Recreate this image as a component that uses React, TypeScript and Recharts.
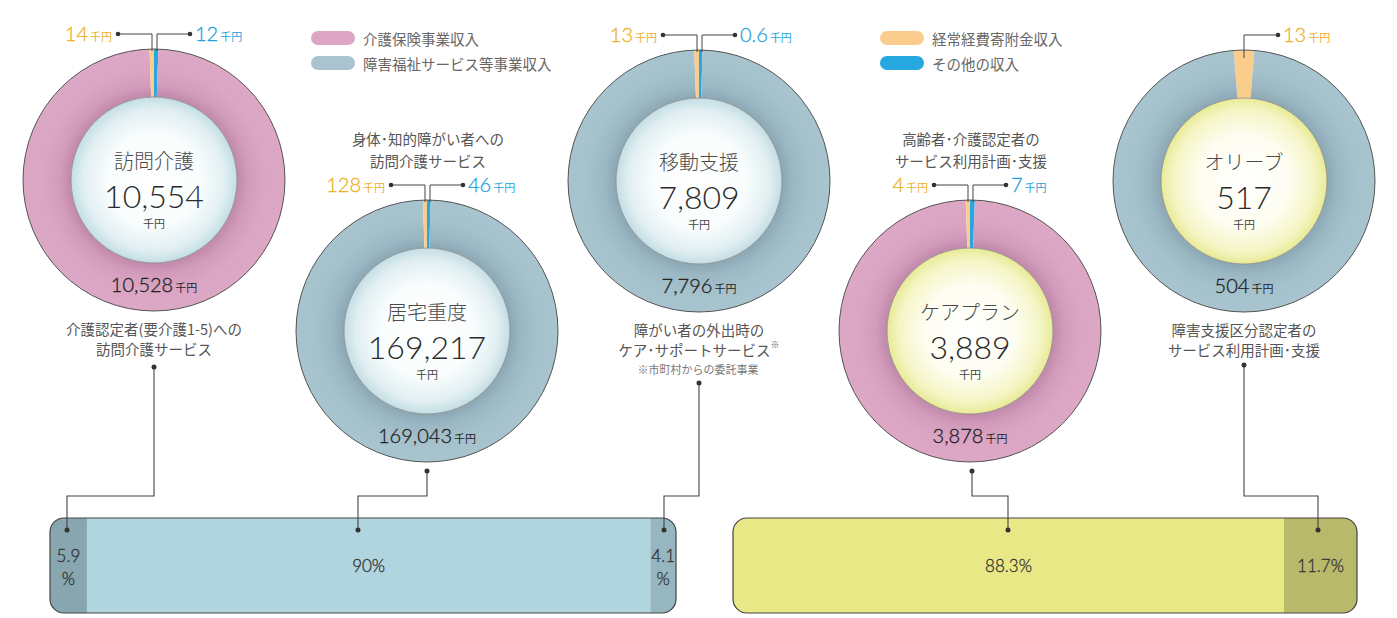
import React from "react";
import { PieChart, Pie, Cell, BarChart, Bar, XAxis, YAxis, LabelList } from "recharts";

// values in 千円
const services = ["訪問介護", "居宅重度", "移動支援", "ケアプラン", "オリーブ"];
const totals = [10554, 169217, 7809, 3889, 517];
const mainIncome = [10528, 169043, 7796, 3878, 504];
const mainKind = ["care", "welfare", "welfare", "care", "welfare"];
const donationIncome = [14, 128, 13, 4, 13];
const otherIncome = [12, 46, 0.6, 7, 0];

const notesAbove = [[], ["身体･知的障がい者への", "訪問介護サービス"], [], ["高齢者･介護認定者の", "サービス利用計画･支援"], []];
const notesBelow = [
  ["介護認定者(要介護1-5)への", "訪問介護サービス"],
  [],
  ["障がい者の外出時の", "ケア･サポートサービス"],
  [],
  ["障害支援区分認定者の", "サービス利用計画･支援"],
];

const legendLabels = ["介護保険事業収入", "障害福祉サービス等事業収入", "経常経費寄附金収入", "その他の収入"];

// share of each bar (%)
const welfareShares = [5.9, 90, 4.1];
const careShares = [88.3, 11.7];

const W = 1397;
const H = 618;
const OUTER = 131;
const INNER = 83;

const CJK = "'Noto Sans CJK JP', 'Noto Sans', sans-serif";
const NUM = "Lato, 'Noto Sans', sans-serif";

const ORANGE = "#fbcd8c";
const BLUE = "#27a7df";
const ORANGE_TEXT = "#eeaf1f";
const BLUE_TEXT = "#1fa2dc";

const layout = [
  { cx: 154, cy: 180, dot: [154, 367], target: 67, disc: "discBlue" },
  { cx: 427, cy: 331, dot: [427, 471], target: 358, disc: "discBlue" },
  { cx: 699, cy: 181, dot: [699, 383], target: 664, disc: "discBlue" },
  { cx: 970, cy: 331, dot: [972, 471], target: 1008, disc: "discYellow" },
  { cx: 1244, cy: 181, dot: [1244, 365], target: 1318, disc: "discYellow" },
];

const fmt = (v: number) => v.toLocaleString("en-US");

function Amount({ x, y, value, color, anchor, size = 20 }: any) {
  return (
    <text x={x} y={y} textAnchor={anchor} fill={color}>
      <tspan fontFamily={NUM} fontWeight={300} fontSize={size} stroke={color} strokeWidth={0.3}>
        {fmt(value)}
      </tspan>
      <tspan fontFamily={CJK} fontSize={11} dx={2}>千円</tspan>
    </text>
  );
}

function ringData(i: number) {
  const main = { name: legendLabels[mainKind[i] === "care" ? 0 : 1], value: mainIncome[i], fill: `url(#ring_${mainKind[i]})` };
  const donation = { name: legendLabels[2], value: donationIncome[i], fill: ORANGE };
  if (otherIncome[i] > 0) {
    return { data: [{ name: legendLabels[3], value: otherIncome[i], fill: BLUE }, main, donation], start: 90 };
  }
  return { data: [donation, main], start: 90 + (donationIncome[i] / totals[i]) * 180 };
}

const renderShare = (props: any) => {
  const { x, y, width, height, value } = props;
  const cx = Number(x) + Number(width) / 2;
  const cy = Number(y) + Number(height) / 2;
  const style = { fontFamily: NUM, fontSize: 17, fill: "#333", fontWeight: 300, stroke: "#333", strokeWidth: 0.3 };
  if (Number(width) < 45) {
    return (
      <text textAnchor="middle" dominantBaseline="central" style={style}>
        <tspan x={cx} y={cy - 11}>{value}</tspan>
        <tspan x={cx} y={cy + 12}>%</tspan>
      </text>
    );
  }
  return (
    <text x={cx} y={cy} textAnchor="middle" dominantBaseline="central" style={style}>
      {value}%
    </text>
  );
};

function ShareBar({ shares, fills, width }: { shares: number[]; fills: string[]; width: number }) {
  const row: any = { name: "share" };
  shares.forEach((s, k) => (row[`s${k}`] = s));
  return (
    <BarChart width={width} height={95} data={[row]} layout="vertical" margin={{ top: 0, right: 0, bottom: 0, left: 0 }} barCategoryGap={0}>
      <XAxis type="number" domain={[0, 100]} hide />
      <YAxis type="category" dataKey="name" hide />
      {shares.map((_, k) => (
        <Bar
          key={k}
          dataKey={`s${k}`}
          stackId="a"
          fill={fills[k]}
          isAnimationActive={false}
          radius={k === 0 ? [14, 0, 0, 14] : k === shares.length - 1 ? [0, 14, 14, 0] : 0}
        >
          <LabelList dataKey={`s${k}`} content={renderShare} />
        </Bar>
      ))}
    </BarChart>
  );
}

export default function App() {
  return (
    <div style={{ position: "absolute", left: 0, top: 0, width: W, height: H, background: "#fff", overflow: "hidden" }}>
      <svg width={0} height={0} style={{ position: "absolute" }}>
        <defs>
          <radialGradient id="ring_care" cx="0.5" cy="0.5" r="0.5">
            <stop offset="0.62" stopColor="#bd86a6" />
            <stop offset="0.72" stopColor="#d29bbb" />
            <stop offset="0.85" stopColor="#dba5c3" />
            <stop offset="1" stopColor="#dca8c5" />
          </radialGradient>
          <radialGradient id="ring_welfare" cx="0.5" cy="0.5" r="0.5">
            <stop offset="0.62" stopColor="#88a5b1" />
            <stop offset="0.72" stopColor="#9ab7c3" />
            <stop offset="0.85" stopColor="#a4c1cc" />
            <stop offset="1" stopColor="#a8c4cf" />
          </radialGradient>
          <radialGradient id="discBlue" cx="0.5" cy="0.5" r="0.5">
            <stop offset="0" stopColor="#ffffff" />
            <stop offset="0.55" stopColor="#fafdfd" />
            <stop offset="0.85" stopColor="#e1eff2" />
            <stop offset="1" stopColor="#c3dee4" />
          </radialGradient>
          <radialGradient id="discYellow" cx="0.5" cy="0.5" r="0.5">
            <stop offset="0" stopColor="#ffffff" />
            <stop offset="0.55" stopColor="#fdfdf1" />
            <stop offset="0.85" stopColor="#f5f5c6" />
            <stop offset="1" stopColor="#e8ea96" />
          </radialGradient>
        </defs>
      </svg>

      <div style={{ position: "absolute", left: 0, top: 0 }}>
        <PieChart width={W} height={H} margin={{ top: 0, right: 0, bottom: 0, left: 0 }}>
          {services.map((s, i) => {
            const { data, start } = ringData(i);
            return (
              <Pie
                key={`ring${i}`}
                data={data}
                dataKey="value"
                nameKey="name"
                cx={layout[i].cx}
                cy={layout[i].cy}
                innerRadius={INNER}
                outerRadius={OUTER}
                startAngle={start}
                endAngle={start - 360}
                minAngle={1.5}
                stroke="none"
                isAnimationActive={false}
              >
                {data.map((d, k) => (
                  <Cell key={k} fill={d.fill} />
                ))}
              </Pie>
            );
          })}
          {services.map((s, i) => (
            <Pie
              key={`disc${i}`}
              data={[{ name: s, value: totals[i] }]}
              dataKey="value"
              cx={layout[i].cx}
              cy={layout[i].cy}
              innerRadius={0}
              outerRadius={INNER}
              startAngle={90}
              endAngle={-270}
              stroke="none"
              fill={`url(#${layout[i].disc})`}
              isAnimationActive={false}
            />
          ))}
        </PieChart>
      </div>

      <div style={{ position: "absolute", left: 50, top: 518 }}>
        <ShareBar shares={welfareShares} fills={["#87a6b0", "#b0d5df", "#97b7c0"]} width={626} />
      </div>
      <div style={{ position: "absolute", left: 733, top: 518 }}>
        <ShareBar shares={careShares} fills={["#e8e986", "#b9b96b"]} width={624} />
      </div>

      <svg width={W} height={H} style={{ position: "absolute", left: 0, top: 0, pointerEvents: "none" }}>
        {/* legends */}
        {legendLabels.map((l, k) => {
          const x = k < 2 ? 311 : 880;
          const y = k % 2 === 0 ? 38 : 63;
          const fill = ["#dca6c4", "#a9c4ce", ORANGE, BLUE][k];
          return (
            <g key={l}>
              <rect x={x} y={y - 7} width={44} height={14} rx={7} fill={fill} />
              <text x={x + 52} y={y} dominantBaseline="central" fontFamily={CJK} fontSize={14.5} fill="#666">
                {l}
              </text>
            </g>
          );
        })}

        {/* bar outlines */}
        <rect x={50} y={518} width={626} height={95} rx={14} fill="none" stroke="#444" strokeWidth={1.2} />
        <rect x={733} y={518} width={624} height={95} rx={14} fill="none" stroke="#444" strokeWidth={1.2} />

        {services.map((s, i) => {
          const { cx, cy, dot, target } = layout[i];
          const topY = cy - 146;
          return (
            <g key={s}>
              <circle cx={cx} cy={cy} r={OUTER} fill="none" stroke="#555" strokeWidth={1} />
              <circle cx={cx} cy={cy} r={INNER} fill="none" stroke="#888" strokeWidth={0.8} />

              {/* center texts */}
              <text x={cx} y={cy - 20} textAnchor="middle" dominantBaseline="central" fontFamily={CJK} fontWeight={300} fontSize={20} fill="#4a4a4a">
                {s}
              </text>
              <text x={cx} y={cy + 28} textAnchor="middle" fontFamily={NUM} fontWeight={300} fontSize={32} fill="#2a2a2a">
                {fmt(totals[i])}
              </text>
              <text x={cx} y={cy + 43} textAnchor="middle" dominantBaseline="central" fontFamily={CJK} fontSize={11} fill="#444">
                千円
              </text>
              <Amount x={cx} y={cy + 112} value={mainIncome[i]} color="#222" anchor="middle" />

              {/* small slice call-outs */}
              {otherIncome[i] > 0 ? (
                <g>
                  <polyline points={`${cx - 2},${cy - OUTER + 2} ${cx - 2},${topY} ${cx - 36},${topY}`} fill="none" stroke="#444" strokeWidth={1} />
                  <polyline points={`${cx + 3},${cy - OUTER + 2} ${cx + 3},${topY} ${cx + 36},${topY}`} fill="none" stroke="#444" strokeWidth={1} />
                  <circle cx={cx - 36} cy={topY} r={2.3} fill="#333" />
                  <circle cx={cx + 36} cy={topY} r={2.3} fill="#333" />
                  <Amount x={cx - 42} y={topY + 7} value={donationIncome[i]} color={ORANGE_TEXT} anchor="end" />
                  <Amount x={cx + 41} y={topY + 7} value={otherIncome[i]} color={BLUE_TEXT} anchor="start" />
                </g>
              ) : (
                <g>
                  <polyline points={`${cx},${cy - OUTER + 8} ${cx},${topY} ${cx + 34},${topY}`} fill="none" stroke="#444" strokeWidth={1} />
                  <circle cx={cx + 34} cy={topY} r={2.3} fill="#333" />
                  <Amount x={cx + 39} y={topY + 7} value={donationIncome[i]} color={ORANGE_TEXT} anchor="start" />
                </g>
              )}

              {/* descriptions */}
              {notesAbove[i].map((t, k) => (
                <text key={t} x={cx + 1} y={cy - 193 + k * 22} textAnchor="middle" dominantBaseline="central" fontFamily={CJK} fontSize={14.5} fill="#555">
                  {t}
                </text>
              ))}
              {notesBelow[i].map((t, k) => (
                <text key={t} x={cx} y={cy + 148 + k * 20} textAnchor="middle" dominantBaseline="central" fontFamily={CJK} fontSize={14.5} fill="#555">
                  {t}
                  {i === 2 && k === 1 && (
                    <tspan fontSize={9} dy={-5}>
                      ※
                    </tspan>
                  )}
                </text>
              ))}
              {i === 2 && (
                <text x={cx - 1} y={cy + 188} textAnchor="middle" dominantBaseline="central" fontFamily={CJK} fontSize={11} fill="#777">
                  ※市町村からの委託事業
                </text>
              )}

              {/* connector to share bar */}
              <polyline points={`${dot[0]},${dot[1]} ${dot[0]},496 ${target},496 ${target},530`} fill="none" stroke="#444" strokeWidth={1.1} />
              <circle cx={dot[0]} cy={dot[1]} r={2.5} fill="#333" />
              <circle cx={target} cy={530} r={2.5} fill="#333" />
            </g>
          );
        })}
      </svg>
    </div>
  );
}
